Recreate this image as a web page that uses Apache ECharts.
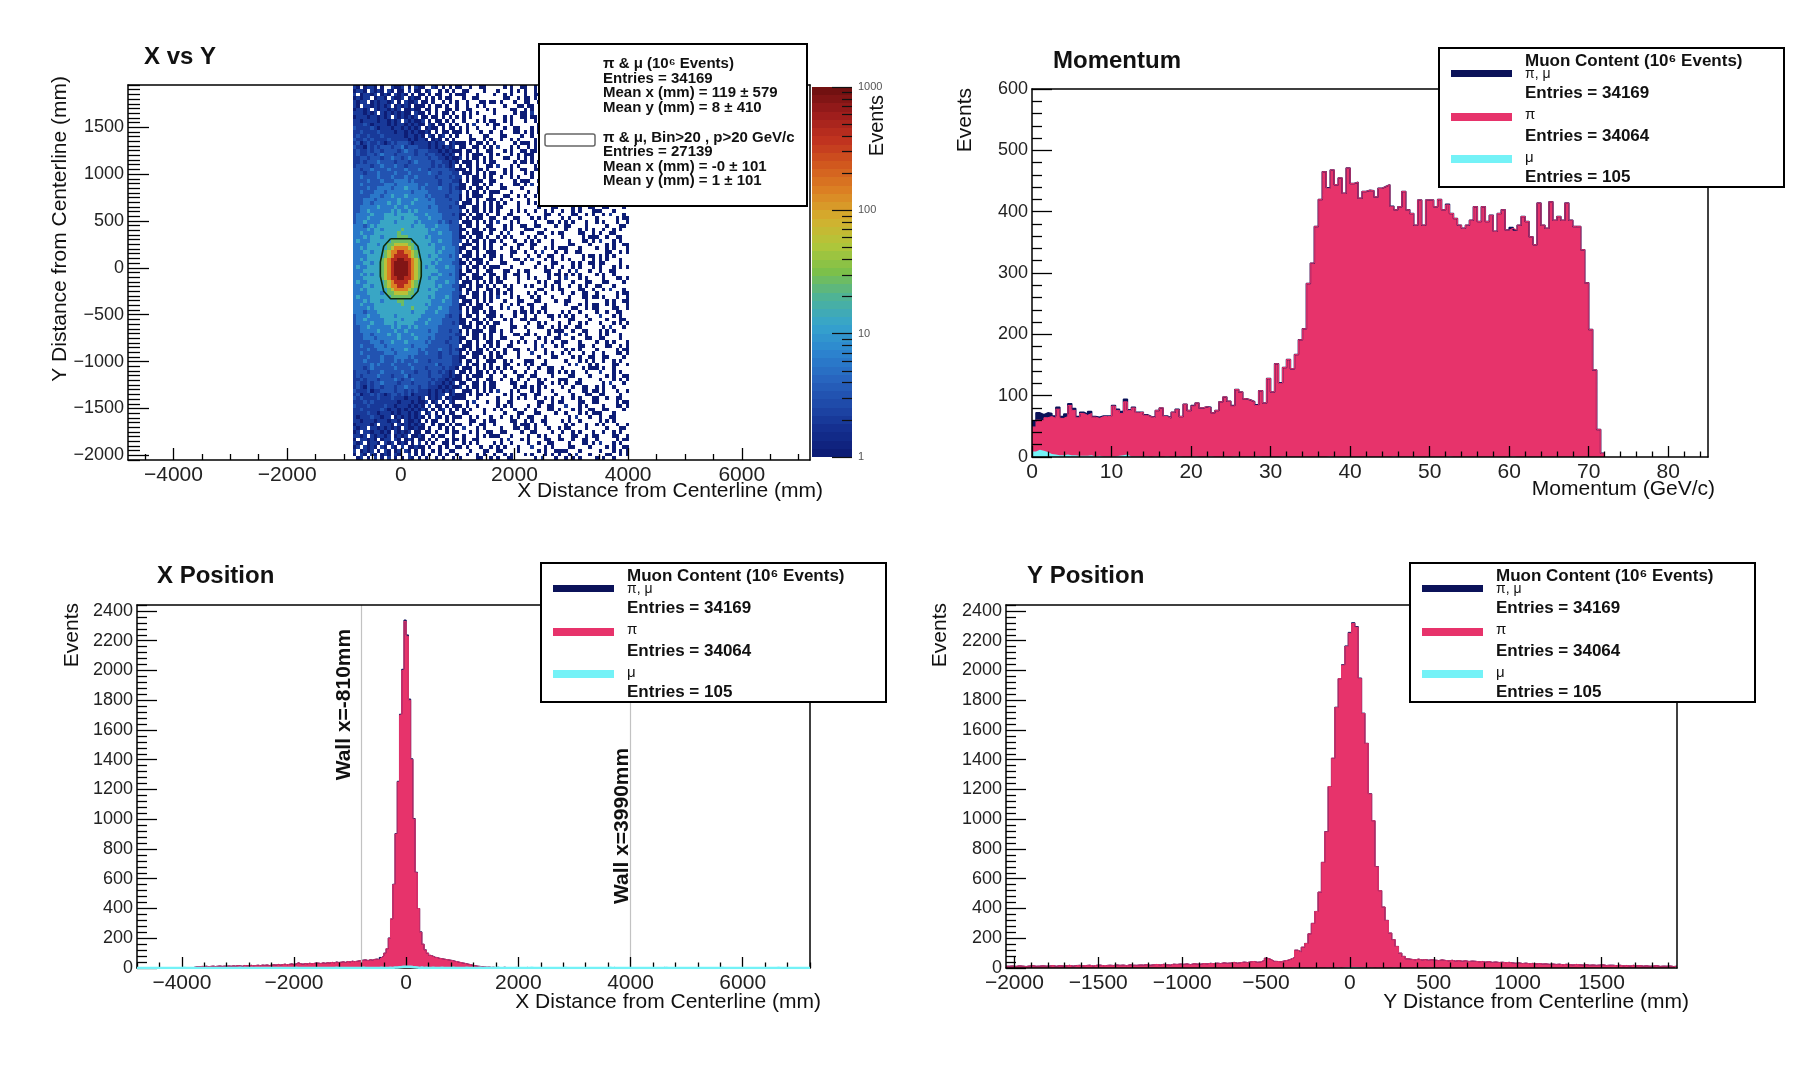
<!DOCTYPE html>
<html lang="en">
<head>
  <meta charset="UTF-8">
  <title>Muon content</title>
  <script src="https://cdn.jsdelivr.net/npm/echarts@6.0.0/dist/echarts.min.js"></script>
  <style>
    html, body { margin: 0; padding: 0; background: #fff; }
    #main { width: 1802px; height: 1072px; }
  </style>
</head>
<body>
<div id="main"></div>
<script>
// ---------------- X vs Y : 2D histogram, 60 mm x 40 mm bins ----------------
// one character per cell: . empty, 1 2 3 -> 1 2 3 events, 4 ~6, 5 ~12, 6 ~28, 7 ~60, 8 ~150, 9 ~400, a ~850
// each row: 31 cells from x=-840 (dense part) | 50 cells (sparse part), top row first
var xyX0 = -840, xyBinX = 60, xyY0 = -2050, xyBinY = 40;
var cellCounts = { '1': 1, '2': 2, '3': 3, '4': 6, '5': 12, '6': 28, '7': 60, '8': 150, '9': 400, 'a': 850 };
var xyRows = [
  "21.1221.1. .2112.1.21 1..21.1.1. 1 | 1..1..11.. ...1.1..11 ..1.2...1. .1.1.1.... 1.1...1..1",
  "1221.2121. 21.11.2.11 .12..1.1.1 . | .11....1.. .1...1.1.1 ..1...11.1 ..1..1.1.. ...1...11.",
  "2.12212.12 1.2121.1.1 1.1.11..1. 1 | 11...1.... 1..1.1...1 ..11....1. .2...1.1.. 1....11..1",
  "12122.1221 .2112.1211 .1.1.1.11. . | .1..11.... ...11..1.1 1.1..1.... .1.1...1.. 1.....1.11",
  "2122.12122 12.1.2112. 11.1..1.1. 1 | ..1...11.1 1.1...1..1 1..1..11.. .11....1.. ...1.1..11",
  "21.2212121 2.12121.11 1.1.11.1.. 1 | ..1..1.1.. ...1...11. 11...1.... .1...1.1.1 1..1.1...1",
  "12212.2122 1212.11211 .11.1..11. 1 | ..11....1. 1....11..1 .1..11.... ..1.2...1. ...11..1.1",
  "2221212.21 2121211.21 1.1.1.11.1 . | .1.1.1.... 1.....1.11 .2...1.1.. 1..1..11.. 1.1..1....",
  "1222122121 2.2121212. 11.11.1.1. 1 | .1.1...1.. ...1.1..11 .11....1.. 1.1...1..1 ..1...11.1",
  "2212222122 1212.21211 2.1.11.1.1 . | .1...1.1.1 1..1.1...1 ..1..1.1.. ...1...11. ..11....1.",
  "2223212222 1212212121 1.21.11.1. 1 | ..1.2...1. 11...1.... ...11..1.1 .1..11.... 1....11..1",
  "3222232122 2122121212 .1211.1.11 . | 1.1..1.... 1..1..11.. .1.1.1.... 1.....1.11 .2...1.1..",
  "2232222322 2212212121 121.1.11.1 1 | 1.1...1..1 ..1...11.1 .1.1...1.. ...1.1..11 .11....1..",
  "2322322232 2222212212 1.21.12.1. 1 | ...1...11. ..11....1. .1...1.1.1 1..1.1...1 11...1....",
  "3223232222 3222221212 21.121.1.1 . | ...11..1.1 ..1..1.1.. ..1.2...1. 1....11..1 .1..11....",
  "2312322321 2323332122 2212122.12 1 | 11.1.11.1. 1.....1.11 1.1..1.... 1..1..11.. .1.1.1....",
  "3221323233 3233423332 2212121212 . | 11..11.1.1 .2...1.1.. 1.1...1..1 ..1...11.1 .1.1...1..",
  "2322323323 3332343323 3322212121 1 | 1.11.1..11 ...1.1..11 .11....1.. ..11....1. ...1...11.",
  "2322332343 3323333323 3233221212 . | 1.1.111..1 .1...1.1.1 11...1.... 1..1.1...1 ..1..1.1..",
  "2233233323 3433234333 3323322121 1 | 2.1.11.1.1 ...11..1.1 .1..11.... ..1.2...1. 1....11..1",
  "2232333433 3323332343 3332332212 1 | .111.1.1.1 1.....1.11 .1.1.1.... 1.1..1.... 1..1..11..",
  "2333323343 3343323333 3332323212 . | 1.11.1..11 .2...1.1.. ..1...11.1 1.1...1..1 .1.1...1..",
  "3323343333 4333343334 3323333322 1 | 11.1.11.1. ...1.1..11 ..11....1. .11....1.. ...1...11.",
  "3332333433 3343334333 3343323332 2 | .111.1.1.1 1..1.1...1 .1...1.1.1 11...1.... ...11..1.1",
  "3343333433 3433343343 3333233323 2 | 2.1.11.1.1 ..1..1.1.. .1..11.... 1....11..1 ..1.2...1.",
  "3333433343 3344443433 3333323332 2 | 1.1.111..1 1.....1.11 1..1..11.. .1.1.1.... 1.1..1....",
  "3343333334 4434444443 3433323323 3 | 11..11.1.1 ..1...11.1 .2...1.1.. .1.1...1.. 1.1...1..1",
  "3333433444 4344454443 4333343323 2 | 11.1.11.1. ..11....1. ...1.1..11 ...1...11. .11....1..",
  "3343334443 4444444344 4433333323 3 | 2.1.11.1.1 11...1.... 1..1.1...1 .1...1.1.1 ..1..1.1..",
  "3333344434 4544454444 4343333233 3 | 1.1.111..1 ...11..1.1 ..1.2...1. .1..11.... 1....11..1",
  "3334443444 4445444454 4434333323 3 | 1.11.1..11 1.1..1.... 1.....1.11 1..1..11.. .1.1.1....",
  "3334434444 5445444544 4444333333 2 | .111.1.1.1 .1.1...1.. 1.1...1..1 .2...1.1.. ..1...11.1",
  "3344444544 4454454444 4434433323 3 | 11..11.1.1 .11....1.. ...1...11. ...1.1..11 ..11....1.",
  "3344544444 4545445454 4444433333 3 | 2.1.11.1.1 .1...1.1.1 ..1..1.1.. 1..1.1...1 11...1....",
  "3444454445 5545555544 4544443332 3 | 11.1.11.1. .1..11.... 1....11..1 ...11..1.1 ..1.2...1.",
  "3444544445 5555455554 4454443333 3 | 1.1.111..1 1..1..11.. .1.1.1.... 1.1..1.... 1.....1.11",
  "3445444455 5545555545 4444434323 3 | .111.1.1.1 .2...1.1.. ..1...11.1 .1.1...1.. 1.1...1..1",
  "4443454555 5555555455 5444544433 3 | 1.11.1..11 ...1.1..11 ..11....1. .11....1.. ...1...11.",
  "4444545545 5555655555 5545444433 3 | 11..11.1.1 1..1.1...1 11...1.... .1...1.1.1 ..1..1.1..",
  "4454445555 5556555555 5544454443 3 | 1.1.111..1 ..1.2...1. ...11..1.1 1....11..1 .1..11....",
  "4445455545 5556665555 5454444443 3 | 11.1.11.1. .1.1.1.... 1.1..1.... 1.....1.11 1..1..11..",
  "4544455555 5666666555 5554454443 3 | 2.1.11.1.1 1.1...1..1 .1.1...1.. ..1...11.1 .2...1.1..",
  "4444555455 6677776655 5545444443 3 | .111.1.1.1 ...1...11. .11....1.. ..11....1. ...1.1..11",
  "4454555555 6788887655 5555445444 3 | 11..11.1.1 ..1..1.1.. .1...1.1.1 11...1.... 1..1.1...1",
  "4445545556 7889988765 5555454444 3 | 1.11.1..11 1....11..1 ..1.2...1. .1..11.... ...11..1.1",
  "4444555556 7899998765 5545544434 3 | .111.1.1.1 1.1..1.... 1..1..11.. 1.....1.11 .1.1.1....",
  "4454555567 899aa99876 5555454444 3 | 1.1.111..1 ..1...11.1 .2...1.1.. 1.1...1..1 .1.1...1..",
  "4445545567 89aaaa9876 5554544443 3 | 11.1.11.1. ..11....1. ...1...11. ...1.1..11 .11....1..",
  "4544555567 89aaaa9876 5455444544 3 | 2.1.11.1.1 11...1.... ..1..1.1.. 1..1.1...1 .1...1.1.1",
  "4445555567 89aaaa9876 5555544444 3 | 1.11.1..11 ...11..1.1 1....11..1 ..1.2...1. .1..11....",
  "4454545567 89aaaa9876 5554454434 3 | 11..11.1.1 1..1..11.. 1.....1.11 .1.1.1.... 1.1..1....",
  "4445555567 899aa99876 5545544444 3 | 1.1.111..1 .1.1...1.. 1.1...1..1 .2...1.1.. ..1...11.1",
  "4544555556 7899998765 5555444544 3 | .111.1.1.1 .11....1.. ...1.1..11 ...1...11. ..11....1.",
  "4445545556 7889988765 5555454443 3 | 11.1.11.1. 1..1.1...1 .1...1.1.1 ..1..1.1.. 11...1....",
  "4454555555 6788887655 5545544444 3 | 1.11.1..11 .1..11.... ...11..1.1 1....11..1 ..1.2...1.",
  "4444555545 6677776655 5555444443 3 | 2.1.11.1.1 .1.1.1.... 1.1..1.... 1..1..11.. 1.....1.11",
  "4544455555 5666666555 5545444543 3 | 11..11.1.1 .2...1.1.. .1.1...1.. ..1...11.1 1.1...1..1",
  "4445455545 5556655555 5554445443 3 | .111.1.1.1 ...1...11. ..11....1. .11....1.. ...1.1..11",
  "4454445555 5555655555 5454444443 3 | 11.1.11.1. ..1..1.1.. 11...1.... .1...1.1.1 1..1.1...1",
  "4444545555 5555555655 5544454433 3 | 1.1.111..1 ..1.2...1. .1..11.... ...11..1.1 1....11..1",
  "4443444555 5555555455 5444544433 3 | 2.1.11.1.1 1.....1.11 .1.1.1.... 1.1..1.... 1..1..11..",
  "3444544455 5545555555 4444444323 3 | 1.11.1..11 1.1...1..1 ..1...11.1 .1.1...1.. .2...1.1..",
  "3445444445 5555455554 4454443333 3 | 11..11.1.1 ...1.1..11 .11....1.. ..11....1. ...1...11.",
  "3444454445 5545555544 4544443332 3 | 11.1.11.1. 11...1.... 1..1.1...1 ..1..1.1.. .1...1.1.1",
  "3344544444 4545445454 4444433333 3 | .111.1.1.1 1....11..1 ...11..1.1 .1..11.... ..1.2...1.",
  "3344444544 4454454444 4434433323 3 | 1.1.111..1 1.1..1.... 1.....1.11 1..1..11.. .1.1.1....",
  "3334434444 5445444544 4444333333 2 | 2.1.11.1.1 ..1...11.1 1.1...1..1 .2...1.1.. .1.1...1..",
  "3334443444 4445444454 4434333323 3 | 11..11.1.1 ..11....1. ...1.1..11 ...1...11. .11....1..",
  "3333344434 4544454444 4343333233 3 | 1.11.1..11 .1...1.1.1 ..1..1.1.. 11...1.... 1..1.1...1",
  "3343334443 4444444344 4433333323 3 | .111.1.1.1 .1..11.... ..1.2...1. 1....11..1 ...11..1.1",
  "3333433444 4344454443 4333343323 2 | 11.1.11.1. 1..1..11.. 1.1..1.... .1.1.1.... 1.....1.11",
  "3343333334 4434444443 3433323323 3 | 1.1.111..1 .1.1...1.. .2...1.1.. 1.1...1..1 ..1...11.1",
  "3333433343 3344443433 3333323332 2 | 11..11.1.1 .11....1.. ...1...11. ...1.1..11 ..11....1.",
  "3334333343 3343433343 3323333332 2 | 1.11.1..11 1..1.1...1 11...1.... .1...1.1.1 ..1..1.1..",
  "3333343433 3433334333 3333423332 2 | 2.1.11.1.1 ...11..1.1 .1..11.... ..1.2...1. 1....11..1",
  "3332343333 3343333433 3233332322 1 | .111.1.1.1 .1.1.1.... 1..1..11.. 1.....1.11 1.1..1....",
  "2333233343 3333433323 3323323212 . | 11.1.11.1. 1.1...1..1 ..1...11.1 .1.1...1.. .2...1.1..",
  "2323333433 3233342333 3323332212 1 | 1.1.111..1 ...1...11. .11....1.. ..11....1. ...1.1..11",
  "2232333233 3343233433 3332322121 1 | 1.11.1..11 ..1..1.1.. 1..1.1...1 11...1.... .1...1.1.1",
  "2322323343 3332333233 3323221212 . | 11..11.1.1 1....11..1 ...11..1.1 .1..11.... ..1.2...1.",
  "2321323323 3323343332 3322212121 1 | 2.1.11.1.1 1.....1.11 .1.1.1.... 1..1..11.. 1.1..1....",
  "3222312233 3323323232 2212121212 . | .111.1.1.1 .2...1.1.. .1.1...1.. ..1...11.1 1.1...1..1",
  "2312232321 2332323122 2212122.12 1 | 11.1.11.1. ...1.1..11 ..11....1. ...1...11. .11....1..",
  "3232222322 2322212221 2.1212.121 1 | 11...1.... .1...1.1.1 ..1..1.1.. 1..1.1...1 1..1..11..",
  "2223232222 2221222121 12.12.1.21 . | ..1.2...1. .1..11.... ...11..1.1 1....11..1 1.....1.11",
  "3222322223 2212221212 1.2.11.1.1 1 | 1.1..1.... .1.1.1.... 1..1..11.. .2...1.1.. ..1...11.1",
  "2232222232 1221212121 21.1.12.1. 1 | .1.1...1.. 1.1...1..1 ..1...11.1 ...1.1..11 ..11....1.",
  "2222322122 2121221212 .12.1.1.11 . | .11....1.. ...1...11. ..11....1. .1...1.1.1 11...1....",
  "2122232212 2.12121212 1.1.21.1.1 1 | 1..1.1...1 ..1..1.1.. 11...1.... ..1.2...1. .1..11....",
  "2212221222 1221.21121 .1.11..1.1 . | ...11..1.1 1....11..1 .1..11.... 1.1..1.... .1.1.1....",
  "1222212.22 21.2121212 1..1.11.1. 1 | 1..1..11.. 1.....1.11 1.1..1.... .1.1...1.. 1.1...1..1",
  "2122.22121 2121.21121 1.1..1.1.1 . | .2...1.1.. ..1...11.1 1.1...1..1 .11....1.. ...1...11.",
  "12.2212212 1.21212.11 .11.1..1.1 1 | ...1.1..11 ..11....1. .11....1.. 1..1.1...1 ..1..1.1..",
  "2212.21221 2.1212.112 1..1.11..1 . | .1...1.1.1 11...1.... 1..1.1...1 ...11..1.1 1....11..1",
  "1.22121.12 2.21.121.1 1.1.1..1.1 1 | .1..11.... ..1.2...1. 1....11..1 1..1..11.. 1.....1.11",
  "212.1221.2 12.121.1.2 .1.1..11.1 . | .1.1.1.... 1.1..1.... 1..1..11.. ..1...11.1 .2...1.1..",
  "12.2121.21 .21.2.1121 1.1..1.1.. 1 | 1.1...1..1 .1.1...1.. .2...1.1.. ..11....1. ...1.1..11",
  "2.1212.1.2 1.12.21.1. 1..1.1..11 . | ...1...11. .11....1.. ...1.1..11 11...1.... .1...1.1.1",
  "1.21.21.12 1.21..2.1. 1.1..1.1.. 1 | ..1..1.1.. 1..1.1...1 .1...1.1.1 ..1.2...1. ...11..1.1",
  ".12.1.2.1. 2.1.1.21.1 .1..1.1..1 . | 1....11..1 .1..11.... ..1.2...1. .1.1.1.... 1.1..1...."
];
// outline of the "Bin>20, p>20 GeV/c" selection (mm)
var selContour = [[-180, 310], [180, 310], [300, 230], [360, 60], [360, -90], [300, -250], [180, -330],
  [-180, -330], [-300, -250], [-360, -90], [-360, 60], [-300, 230], [-180, 310]];
var xyLegend = ['\u03c0 & \u03bc (10\u2076 Events)', 'Entries = 34169', 'Mean x (mm) = 119 \u00b1 579', 'Mean y (mm) = 8 \u00b1 410',
  '\u03c0 & \u03bc, Bin>20 , p>20 GeV/c', 'Entries = 27139', 'Mean x (mm) = -0 \u00b1 101', 'Mean y (mm) = 1 \u00b1 101'];

// ---------------- Momentum, 0.5 GeV/c bins from 0 ----------------
var momLo = 0, momBin = 0.5;
var momPi = [
  49, 60, 59, 64, 66, 63, 78, 63, 66, 84, 76, 64, 71, 68, 71, 65, 63, 66, 66, 66,
  83, 76, 71, 90, 76, 80, 72, 73, 68, 66, 64, 76, 80, 66, 64, 73, 77, 66, 86, 76,
  83, 88, 80, 82, 80, 72, 76, 90, 98, 91, 83, 110, 106, 95, 93, 90, 84, 108, 88, 128,
  106, 152, 120, 146, 159, 144, 167, 191, 209, 283, 316, 376, 420, 465, 438, 468, 444, 455, 430, 471,
  446, 448, 422, 433, 435, 434, 424, 438, 441, 444, 408, 403, 408, 433, 403, 397, 378, 419, 378, 419,
  419, 408, 420, 403, 411, 397, 389, 378, 373, 378, 386, 408, 384, 408, 384, 394, 368, 397, 403, 370,
  373, 370, 378, 392, 384, 359, 346, 414, 378, 373, 416, 386, 392, 386, 414, 386, 376, 376, 338, 284,
  208, 142, 45, 6
];
var momMu = [
  9, 12, 10, 8, 5, 4, 3, 3, 4, 3, 3, 2, 2, 2, 3, 1, 2, 1, 1, 1,
  1, 2, 3, 4, 1, 1, 1, 0, 1, 0, 1, 0, 0, 1, 0, 0, 1, 0, 0, 0,
  1, 0, 0, 0, 1, 0, 0, 0, 0, 0, 1, 0, 0, 0, 0, 0, 1, 0, 0, 0,
  0, 0, 1, 0, 0, 0, 0, 0, 0, 0, 0, 0, 0, 0, 1, 0, 0, 0, 0, 0,
  0, 0, 0, 0, 0, 0, 0, 0, 0, 0, 1, 0, 0, 0, 0, 0, 0, 0, 0, 0,
  0, 0, 0, 0, 1, 0, 0, 0, 0, 0, 0, 0, 0, 0, 0, 0, 0, 0, 0, 0,
  1, 0, 0, 0, 0, 0, 0, 0, 0, 0, 0, 0, 0, 0, 0, 0, 0, 0, 0, 0,
  0, 0, 0, 0
];

// ---------------- X position, 40 mm bins from -4800 ----------------
var xLo = -4800, xBin = 40;
var xPosPi = [
  0, 0, 0, 0, 0, 0, 0, 0, 0, 0, 0, 0, 0, 0, 0, 0, 0, 0, 0, 0,
  0, 0, 0, 0, 2, 6, 9, 8, 11, 10, 12, 9, 11, 13, 10, 12, 14, 11, 13, 12,
  14, 12, 15, 13, 16, 14, 12, 17, 15, 16, 18, 15, 17, 19, 16, 20, 18, 21, 17, 19,
  22, 20, 24, 21, 23, 26, 22, 25, 28, 24, 27, 36, 29, 26, 30, 28, 32, 29, 31, 34,
  33, 30, 35, 32, 36, 34, 38, 35, 40, 37, 39, 42, 38, 44, 41, 46, 43, 45, 48, 50,
  52, 55, 50, 56, 54, 58, 60, 57, 70, 82, 100, 130, 200, 330, 560, 900, 1250, 1700, 2000, 2330,
  2230, 1800, 1400, 1000, 640, 400, 240, 160, 120, 100, 85, 78, 72, 70, 65, 62, 60, 57, 55, 52,
  48, 45, 42, 38, 35, 32, 28, 25, 22, 18, 15, 12, 10, 8, 7, 5, 6, 4, 5, 3,
  4, 2, 3, 5, 2, 3, 1, 2, 4, 2, 3, 1, 2, 4, 1, 2, 3, 1, 2, 1,
  2, 3, 1, 2, 1, 3, 2, 1, 2, 1, 1, 2, 3, 1, 2, 1, 2, 1, 3, 2,
  2, 1, 2, 1, 3, 2, 1, 2, 1, 2, 1, 2, 4, 1, 2, 1, 3, 2, 1, 2,
  2, 1, 3, 2, 1, 2, 1, 1, 2, 1, 3, 1, 2, 1, 4, 1, 2, 1, 1, 2,
  1, 2, 1, 1, 3, 1, 2, 1, 1, 1, 2, 1, 1, 2, 1, 3, 1, 1, 2, 1,
  1, 1, 2, 1, 1, 2, 1, 3, 1, 1, 2, 1, 1, 1, 2, 1, 1, 2, 1, 1,
  1, 2, 1, 1, 3, 1, 1, 1, 2, 1, 1, 1, 2, 1, 1, 1, 2, 1, 1, 1
];
var xPosMuIdx = [20, 45, 70, 88, 100, 108, 112, 114, 115, 116, 117, 118, 119, 120, 121, 122, 123, 124, 126, 128, 131, 135, 140, 146, 152, 160, 175, 190, 210, 235, 260, 285];
var xPosMuVal = [1, 1, 1, 1, 2, 1, 2, 3, 4, 5, 6, 8, 9, 9, 8, 6, 5, 4, 3, 2, 2, 1, 2, 1, 1, 1, 1, 1, 1, 1, 1, 1];
var wallX = [-810, 3990];
var wallLabelTop = [2280, 1480];
var wallLabels = ['Wall x=-810mm', 'Wall x=3990mm'];

// ---------------- Y position, 20 mm bins from -2050 ----------------
var yLo = -2050, yBin = 20;
var yPosPi = [
  12, 14, 11, 15, 13, 10, 14, 16, 12, 13, 15, 13, 14, 17, 12, 16, 14, 15, 18, 13,
  16, 18, 15, 17, 19, 14, 18, 20, 16, 17, 19, 17, 21, 18, 20, 16, 22, 19, 18, 21,
  20, 23, 19, 22, 24, 21, 25, 22, 20, 26, 24, 27, 25, 28, 23, 29, 27, 26, 30, 28,
  31, 29, 33, 30, 35, 32, 34, 38, 33, 36, 40, 37, 42, 44, 39, 41, 52, 66, 58, 45,
  44, 42, 48, 52, 60, 70, 120, 110, 140, 165, 230, 300, 380, 510, 710, 915, 1220, 1410, 1750, 1945,
  2035, 2160, 2250, 2315, 2290, 1945, 1710, 1510, 1170, 990, 680, 520, 410, 320, 235, 190, 145, 100, 78, 62,
  58, 55, 60, 54, 57, 52, 56, 53, 50, 55, 51, 48, 52, 47, 50, 46, 49, 44, 47, 45,
  42, 44, 40, 43, 38, 41, 37, 39, 36, 38, 34, 32, 35, 30, 33, 29, 31, 28, 30, 27,
  28, 25, 27, 24, 26, 22, 25, 23, 21, 24, 22, 20, 23, 19, 21, 18, 20, 22, 17, 19,
  18, 16, 19, 15, 17, 14, 18, 15, 16, 13, 15, 12, 14, 16, 11, 13, 12, 14, 10, 12
];
var yPosMuIdx = [20, 60, 85, 95, 98, 100, 101, 102, 103, 104, 105, 106, 108, 110, 115, 125, 150, 180];
var yPosMuVal = [1, 1, 1, 2, 3, 4, 5, 6, 6, 5, 4, 3, 2, 2, 1, 1, 1, 1];

var histLegend = ['Muon Content (10\u2076 Events)', '\u03c0, \u03bc', 'Entries = 34169', '\u03c0', 'Entries = 34064', '\u03bc', 'Entries = 105'];

// ---------------- tick labels ----------------
var xyXTicks = [-4000, -2000, 0, 2000, 4000, 6000];
var xyYTicks = [-2000, -1500, -1000, -500, 0, 500, 1000, 1500];
var momXTicks = [0, 10, 20, 30, 40, 50, 60, 70, 80];
var momYTicks = [0, 100, 200, 300, 400, 500, 600];
var posXTicks = [-4000, -2000, 0, 2000, 4000, 6000];
var posYTicks = [0, 200, 400, 600, 800, 1000, 1200, 1400, 1600, 1800, 2000, 2200, 2400];
var ypXTicks = [-2000, -1500, -1000, -500, 0, 500, 1000, 1500];
var zTicks = [1, 10, 100, 1000];

// ---------------- style ----------------
var FONT = '"Liberation Sans", Arial, Helvetica, sans-serif';
var PINK = '#e7336b', NAVY = '#0b1259', CYAN = '#74f2f7', WALL = '#c2c2c2';
var PALETTE = ['#0c1a72', '#142e8e', '#1f4aaa', '#2866c0', '#2c86d0', '#36a4cc', '#4cb29a', '#7cc04a',
  '#b0c63a', '#d4b02e', '#dc8424', '#d25a1e', '#c0321f', '#9c1c1c', '#6a0f0f'];
var NBANDS = 45;

function fmt(v) { return v < 0 ? '\u2212' + Math.abs(v) : String(v); }
function range(from, to, step) {
  var a = [];
  for (var k = 0; from + k * step <= to + 1e-9; k++) a.push(Math.round((from + k * step) * 1e6) / 1e6);
  return a;
}
function minorOf(from, to, step, majors) {
  return range(from, to, step).filter(function (v) { return majors.indexOf(v) < 0; });
}
function expand(n, idx, val) {
  var a = [];
  for (var i = 0; i < n; i++) a.push(0);
  idx.forEach(function (k, j) { a[k] = val[j]; });
  return a;
}
function sum(a, b) { return a.map(function (v, i) { return v + b[i]; }); }

// heatmap cells
var xyCells = [];
xyRows.forEach(function (row, i) {
  var parts = row.split('|');
  var cells = (parts[0].replace(/\s/g, '') + '...............................').slice(0, 31) +
    (parts[1].replace(/\s/g, '') + '..................................................').slice(0, 50);
  var yb = xyY0 + xyBinY * (xyRows.length - 1 - i);
  for (var c = 0; c < cells.length; c++) {
    var n = cellCounts[cells[c]];
    if (n) xyCells.push([xyX0 + xyBinX * c, yb, n]);
  }
});

// colour bands (log scale 1..1000)
var pieces = [], zBands = [];
for (var k = 0; k < NBANDS; k++) {
  var lo = 3 * k / NBANDS, hi = 3 * (k + 1) / NBANDS;
  var piece = { gte: Math.pow(10, lo), color: echarts.color.lerp((k + 0.5) / NBANDS, PALETTE) };
  if (k < NBANDS - 1) piece.lt = Math.pow(10, hi); else piece.lte = 1000;
  pieces.push(piece);
  zBands.push([0, lo, Math.pow(10, (lo + hi) / 2), hi]);
}

// ---------------- axes ----------------
var xAxes = [], yAxes = [];
var lineSt = { color: '#000', width: 1.5 };
var tickSt = { color: '#000', width: 1.3 };
function addX(g, min, max, majors, minors, majLen, minLen) {
  var i = xAxes.length;
  xAxes.push({ gridIndex: g, type: 'value', min: min, max: max, position: 'bottom', z: 5,
    axisLine: { show: true, onZero: false, lineStyle: lineSt },
    axisTick: { show: true, inside: true, length: majLen, lineStyle: tickSt, customValues: majors },
    axisLabel: { show: true, customValues: majors, formatter: fmt, fontFamily: FONT, fontSize: 21, color: '#222', margin: 5 },
    splitLine: { show: false } });
  xAxes.push({ gridIndex: g, type: 'value', min: min, max: max, position: 'bottom', z: 5,
    axisLine: { show: false, onZero: false },
    axisTick: { show: true, inside: true, length: minLen, lineStyle: tickSt, customValues: minors },
    axisLabel: { show: false }, splitLine: { show: false } });
  xAxes.push({ gridIndex: g, type: 'value', min: min, max: max, position: 'top', z: 5,
    axisLine: { show: true, onZero: false, lineStyle: lineSt },
    axisTick: { show: false }, axisLabel: { show: false }, splitLine: { show: false } });
  return i;
}
function addY(g, min, max, majors, minors, majLen, minLen) {
  var i = yAxes.length;
  yAxes.push({ gridIndex: g, type: 'value', min: min, max: max, position: 'left', z: 5,
    axisLine: { show: true, onZero: false, lineStyle: lineSt },
    axisTick: { show: true, inside: true, length: majLen, lineStyle: tickSt, customValues: majors },
    axisLabel: { show: true, customValues: majors, formatter: fmt, fontFamily: FONT, fontSize: 18, color: '#222', margin: 4 },
    splitLine: { show: false } });
  yAxes.push({ gridIndex: g, type: 'value', min: min, max: max, position: 'left', z: 5,
    axisLine: { show: false, onZero: false },
    axisTick: { show: true, inside: true, length: minLen, lineStyle: tickSt, customValues: minors },
    axisLabel: { show: false }, splitLine: { show: false } });
  yAxes.push({ gridIndex: g, type: 'value', min: min, max: max, position: 'right', z: 5,
    axisLine: { show: true, onZero: false, lineStyle: lineSt },
    axisTick: { show: false }, axisLabel: { show: false }, splitLine: { show: false } });
  return i;
}

var grids = [
  { left: 128, top: 85, width: 682, height: 375 },   // X vs Y
  { left: 1032, top: 89, width: 676, height: 368 },  // Momentum
  { left: 137, top: 605, width: 673, height: 363 },  // X position
  { left: 1006, top: 605, width: 671, height: 363 }, // Y position
  { left: 812, top: 87, width: 40, height: 370 }     // colour scale
].map(function (g) { g.outerBoundsMode = 'none'; return g; });

var gx0 = addX(0, -4800, 7200, xyXTicks, minorOf(-4500, 7000, 500, xyXTicks), 12, 6);
var gy0 = addY(0, -2050, 1950, xyYTicks, minorOf(-2050, 1950, 50, xyYTicks), 21, 12);
var gx1 = addX(1, 0, 85, momXTicks, minorOf(0, 84, 2, momXTicks), 11, 5.5);
var gy1 = addY(1, 0, 600, momYTicks, minorOf(0, 600, 20, momYTicks), 20, 10);
var gx2 = addX(2, -4800, 7200, posXTicks, minorOf(-4800, 7200, 400, posXTicks), 11, 5.5);
var gy2 = addY(2, 0, 2440, posYTicks, minorOf(0, 2440, 40, posYTicks), 20, 10);
var gx3 = addX(3, -2050, 1950, ypXTicks, minorOf(-2000, 1900, 100, ypXTicks), 11, 5.5);
var gy3 = addY(3, 0, 2440, posYTicks, minorOf(0, 2440, 40, posYTicks), 20, 10);

// colour scale axes (in log10 units)
var zLog = zTicks.map(function (v) { return Math.log10(v); });
var zMinor = [];
[1, 10, 100].forEach(function (d) { for (var m = 2; m <= 9; m++) zMinor.push(Math.log10(d * m)); });
var gx4 = xAxes.length;
xAxes.push({ gridIndex: 4, type: 'value', min: 0, max: 1, show: false, axisLine: { onZero: false } });
var gy4 = yAxes.length;
yAxes.push({ gridIndex: 4, type: 'value', min: 0, max: 3, position: 'right', z: 5,
  axisLine: { show: false, onZero: false },
  axisTick: { show: true, inside: true, length: 20, lineStyle: { color: '#111', width: 1.2 }, customValues: zLog },
  axisLabel: { customValues: zLog, formatter: function (v) { return String(Math.round(Math.pow(10, v))); },
    fontFamily: FONT, fontSize: 11, color: '#555', margin: 6 },
  splitLine: { show: false } });
yAxes.push({ gridIndex: 4, type: 'value', min: 0, max: 3, position: 'right', z: 5,
  axisLine: { show: false, onZero: false },
  axisTick: { show: true, inside: true, length: 10, lineStyle: { color: '#111', width: 1.2 }, customValues: zMinor },
  axisLabel: { show: false }, splitLine: { show: false } });

// ---------------- series ----------------
function histData(lo, bw, vals) {
  var d = vals.map(function (v, i) { return [lo + i * bw, v]; });
  d.push([lo + vals.length * bw, vals[vals.length - 1]]);
  return d;
}
function hist(xi, yi, lo, bw, vals, color, lw, z) {
  return { type: 'line', xAxisIndex: xi, yAxisIndex: yi, step: 'end', symbol: 'none', silent: true, z: z,
    data: histData(lo, bw, vals), lineStyle: { color: color, width: lw }, areaStyle: { color: color, opacity: 1 } };
}

var xPosMu = expand(xPosPi.length, xPosMuIdx, xPosMuVal);
var yPosMu = expand(yPosPi.length, yPosMuIdx, yPosMuVal);

var series = [
  { type: 'custom', name: 'xy', xAxisIndex: gx0, yAxisIndex: gy0, data: xyCells, encode: { x: 0, y: 1 }, z: 2, clip: true, silent: true,
    renderItem: function (params, api) {
      var a = api.coord([api.value(0), api.value(1) + xyBinY]);
      var b = api.coord([api.value(0) + xyBinX, api.value(1)]);
      var x = Math.round(a[0]), y = Math.round(a[1]);
      return { type: 'rect', shape: { x: x, y: y, width: Math.round(b[0]) - x, height: Math.round(b[1]) - y },
        style: { fill: api.visual('color') } };
    } },
  { type: 'line', xAxisIndex: gx0, yAxisIndex: gy0, data: selContour, symbol: 'none', silent: true, z: 3,
    lineStyle: { color: '#0d2a0d', width: 1.6 } },
  { type: 'custom', xAxisIndex: gx4, yAxisIndex: gy4, data: zBands, encode: { x: 0, y: 1 }, z: 2, silent: true,
    renderItem: function (params, api) {
      var a = api.coord([0, api.value(3)]);
      var b = api.coord([1, api.value(1)]);
      var y0 = Math.round(a[1]), y1 = Math.round(b[1]);
      return { type: 'rect', shape: { x: a[0], y: y0, width: b[0] - a[0], height: y1 - y0 }, style: { fill: api.visual('color') } };
    } },
  hist(gx1, gy1, momLo, momBin, sum(momPi, momMu), NAVY, 1.5, 2),
  hist(gx1, gy1, momLo, momBin, momPi, PINK, 1, 2),
  hist(gx1, gy1, momLo, momBin, momMu, CYAN, 0, 2),
  hist(gx2, gy2, xLo, xBin, sum(xPosPi, xPosMu), NAVY, 1, 2),
  hist(gx2, gy2, xLo, xBin, xPosPi, PINK, 1, 2),
  hist(gx2, gy2, xLo, xBin, xPosMu, CYAN, 2.5, 6),
  hist(gx3, gy3, yLo, yBin, sum(yPosPi, yPosMu), NAVY, 1, 2),
  hist(gx3, gy3, yLo, yBin, yPosPi, PINK, 1, 2),
  hist(gx3, gy3, yLo, yBin, yPosMu, CYAN, 0, 2)
];
var xNavyIdx = 6;
series[xNavyIdx].markLine = { silent: true, symbol: ['none', 'none'], label: { show: false },
  lineStyle: { color: WALL, width: 1.2, type: 'solid' },
  data: wallX.map(function (v) { return { xAxis: v }; }) };

function titleOf(text, left, top) {
  return { text: text, left: left, top: top, padding: 0,
    textStyle: { fontFamily: FONT, fontSize: 24, fontWeight: 'bold', color: '#111' } };
}

var chart = echarts.init(document.getElementById('main'));
chart.setOption({
  backgroundColor: '#fff',
  animation: false,
  title: [titleOf('X vs Y', 144, 45), titleOf('Momentum', 1053, 49), titleOf('X Position', 157, 564), titleOf('Y Position', 1027, 564)],
  grid: grids,
  xAxis: xAxes,
  yAxis: yAxes,
  visualMap: { type: 'piecewise', show: false, seriesIndex: [0, 2], dimension: 2, pieces: pieces },
  series: series
});

// ---------------- texts, legends ----------------
function txt(x, y, text, font, align, rot) {
  var el = { type: 'text', z: 21, x: x, y: y,
    style: { text: text, font: font, fill: '#111', textAlign: align || 'left', textVerticalAlign: 'middle' } };
  if (rot) el.rotation = rot;
  return el;
}
function box(x, y, w, h, fill, stroke, lw) {
  var s = { fill: fill };
  if (stroke) { s.stroke = stroke; s.lineWidth = lw; }
  return { type: 'rect', z: 20, shape: { x: x, y: y, width: w, height: h }, style: s };
}
function histLegendEls(L, T) {
  var B = 'bold 17px ' + FONT, R = '15px ' + FONT;
  return [
    box(L, T, 345, 139, '#fff', '#000', 2),
    box(L + 12, T + 22, 61, 7, NAVY), box(L + 12, T + 65, 61, 8, PINK), box(L + 12, T + 107, 61, 8, CYAN),
    txt(L + 86, T + 13, histLegend[0], B),
    txt(L + 86, T + 26, histLegend[1], '14px ' + FONT),
    txt(L + 86, T + 45, histLegend[2], B),
    txt(L + 86, T + 67, histLegend[3], R),
    txt(L + 86, T + 88, histLegend[4], B),
    txt(L + 86, T + 110, histLegend[5], R),
    txt(L + 86, T + 129, histLegend[6], B)
  ];
}
var els = [];
// X vs Y statistics box
var LB = 'bold 15px ' + FONT;
els.push(box(539, 44, 268, 162, '#fff', '#000', 2));
els.push({ type: 'rect', z: 21, shape: { x: 545, y: 134, width: 50, height: 12, r: 2 }, style: { fill: '#fff', stroke: '#666', lineWidth: 1.5 } });
[20, 35, 49, 64, 94, 108, 123, 137].forEach(function (dy, k) { els.push(txt(603, 44 + dy, xyLegend[k], LB)); });
els = els.concat(histLegendEls(1439, 48), histLegendEls(541, 563), histLegendEls(1410, 563));

// axis titles
var AF = '21px ' + FONT, UP = Math.PI / 2;
els.push(txt(823, 491, 'X Distance from Centerline (mm)', AF, 'right'));
els.push(txt(1715, 489, 'Momentum (GeV/c)', AF, 'right'));
els.push(txt(821, 1002, 'X Distance from Centerline (mm)', AF, 'right'));
els.push(txt(1689, 1002, 'Y Distance from Centerline (mm)', AF, 'right'));
els.push(txt(60, 76, 'Y Distance from Centerline (mm)', AF, 'right', UP));
els.push(txt(965, 88, 'Events', AF, 'right', UP));
els.push(txt(72, 603, 'Events', AF, 'right', UP));
els.push(txt(940, 603, 'Events', AF, 'right', UP));
els.push(txt(877, 95, 'Events', '20px ' + FONT, 'right', UP));

// wall labels next to the wall lines
var wallGap = [17, 8];
wallX.forEach(function (wx, k) {
  var p = chart.convertToPixel({ seriesIndex: xNavyIdx }, [wx, wallLabelTop[k]]);
  els.push(txt(p[0] - wallGap[k], p[1], wallLabels[k], 'bold 21px ' + FONT, 'right', UP));
});

chart.setOption({ graphic: els });
</script>
</body>
</html>
